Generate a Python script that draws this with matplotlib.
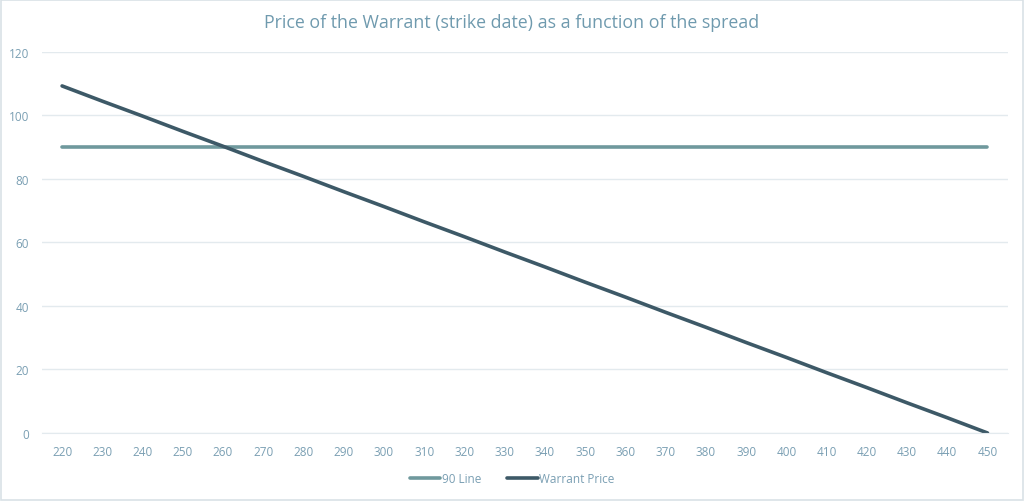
import matplotlib
matplotlib.use("Agg")
import matplotlib.pyplot as plt
from matplotlib.patches import Rectangle

# spread categories (x axis)
spreads = [220, 230, 240, 250, 260, 270, 280, 290, 300, 310, 320, 330,
           340, 350, 360, 370, 380, 390, 400, 410, 420, 430, 440, 450]
line_90 = [90] * len(spreads)
warrant_price = [109.3, 104.5, 99.8, 95.0, 90.3, 85.5, 80.8, 76.0, 71.3, 66.5,
                 61.8, 57.0, 52.3, 47.5, 42.8, 38.0, 33.3, 28.5, 23.8, 19.0,
                 14.3, 9.5, 4.8, 0.0]
y_ticks = [0, 20, 40, 60, 80, 100, 120]

plt.rcParams['font.family'] = ['Open Sans', 'DejaVu Sans']
txt_col = "#7a9fb3"
grid_col = "#e3eaee"

fig = plt.figure(figsize=(10.24, 5.02), dpi=100)
ax = fig.add_axes([0.041, 0.1355, 0.943, 0.759])

pos = list(range(len(spreads)))
ax.plot(pos, line_90, color="#6f999d", lw=2.6, label="90 Line", solid_capstyle="round")
ax.plot(pos, warrant_price, color="#3d5967", lw=2.6, label="Warrant Price", solid_capstyle="round")

ax.set_xlim(-0.5, len(spreads) - 0.5)
ax.set_ylim(0, 120)
ax.set_xticks(pos)
ax.set_xticklabels([str(s) for s in spreads])
ax.set_yticks(y_ticks)
ax.grid(axis="y", color=grid_col, lw=1)
ax.set_axisbelow(True)
for sp in ax.spines.values():
    sp.set_visible(False)
ax.spines["bottom"].set_visible(True)
ax.spines["bottom"].set_color(grid_col)
ax.tick_params(length=0, colors=txt_col, labelsize=8.5)
ax.tick_params(axis="x", pad=9)
ax.tick_params(axis="y", pad=9.5)

fig.suptitle("Price of the Warrant (strike date) as a function of the spread",
             x=0.5, y=0.972, fontsize=12.8, color="#6f9aae")

fig.legend(loc="center", bbox_to_anchor=(0.5, 0.044), ncol=2, frameon=False,
           fontsize=8.5, labelcolor=txt_col, handlelength=2.6, handletextpad=0.1,
           columnspacing=2.2)

fig.patches.append(Rectangle((0.001, 0.002), 0.998, 0.996, transform=fig.transFigure,
                             fill=False, edgecolor="#d9e1e6", lw=1.2))

fig.savefig("out.png", dpi=100)
